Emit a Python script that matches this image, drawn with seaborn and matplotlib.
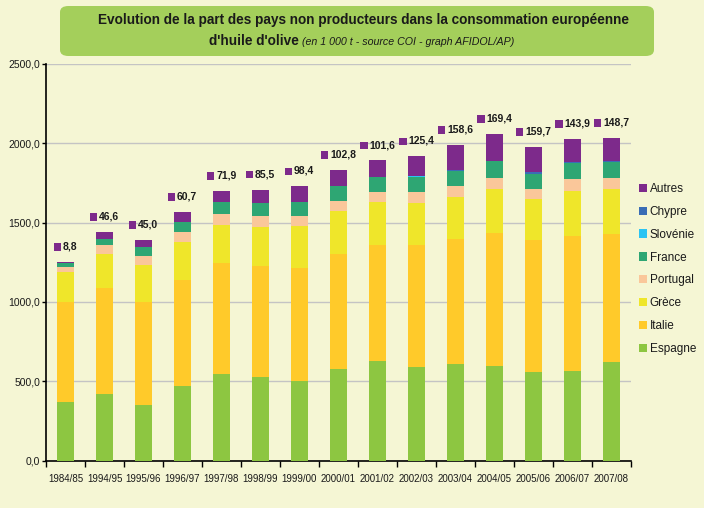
import matplotlib
matplotlib.use("Agg")
import matplotlib.pyplot as plt
import seaborn as sns
import pandas as pd
import numpy as np
from matplotlib.patches import Patch, FancyBboxPatch, Rectangle
from matplotlib.offsetbox import HPacker, TextArea, DrawingArea, AnnotationBbox
from matplotlib.ticker import FuncFormatter, FixedLocator

# ---- data (1 000 t) ----
campaigns = ["1984/85", "1994/95", "1995/96", "1996/97", "1997/98", "1998/99", "1999/00",
             "2000/01", "2001/02", "2002/03", "2003/04", "2004/05", "2005/06", "2006/07", "2007/08"]
espagne  = [371, 419, 350, 470, 545, 526, 501, 577, 627, 590, 608, 596, 558, 564, 621]
italie   = [629, 669, 649, 668, 700, 700, 713, 725, 731, 768, 789, 839, 832, 851, 807]
grece    = [189, 216, 234, 240, 240, 245, 265, 271, 272, 265, 264, 277, 259, 284, 284]
portugal = [31, 55, 57, 63, 69, 70, 62, 63, 63, 70, 70, 69, 63, 76, 69]
france   = [25, 38, 55, 65, 76, 82, 90, 95, 97, 97, 94, 105, 94, 101, 101]
slovenie = [0, 0, 0, 0, 0, 0, 0, 0, 0, 1, 1, 1, 1, 1, 1]
chypre   = [0, 0, 0, 0, 0, 0, 0, 0, 0, 2, 4, 3, 11, 7, 3]
autres   = [8.8, 46.6, 45.0, 60.7, 71.9, 85.5, 98.4, 102.8, 101.6, 125.4, 158.6, 169.4, 159.7, 143.9, 148.7]

series_names = ["Espagne", "Italie", "Grèce", "Portugal", "France", "Slovénie", "Chypre", "Autres"]
series_vals = [espagne, italie, grece, portugal, france, slovenie, chypre, autres]
colors = {"Espagne": "#8DC641", "Italie": "#FFCA2A", "Grèce": "#EFE62A", "Portugal": "#FAC79A",
          "France": "#2EA673", "Slovénie": "#2BC4F3", "Chypre": "#3A6DB5", "Autres": "#7D2A8B"}

BG = "#F5F6D4"
FONT = ["Liberation Sans", "DejaVu Sans"]
TXT = "#1a1a1a"

sns.set_theme(style="white")
plt.rcParams["font.family"] = FONT

df = pd.DataFrame({"campagne": campaigns})
cum = np.zeros(len(campaigns))
for name, vals in zip(series_names, series_vals):
    cum = cum + np.array(vals, dtype=float)
    df["cum_" + name] = cum.copy()

fig = plt.figure(figsize=(7.04, 5.08), dpi=100, facecolor=BG)
ax = fig.add_axes([46 / 704, 47.5 / 508, 585 / 704, 396.5 / 508])
ax.set_facecolor(BG)

# draw cumulative totals from top series down so that lower layers overlay
for name in reversed(series_names):
    sns.barplot(data=df, x="campagne", y="cum_" + name, color=colors[name], width=0.44,
                saturation=1, ax=ax, linewidth=0, zorder=3)

ax.set_xlim(-0.5, len(campaigns) - 0.5)
ax.set_ylim(0, 2500)
ax.set_xlabel("")
ax.set_ylabel("")

# y axis
ax.yaxis.set_major_locator(FixedLocator([0, 500, 1000, 1500, 2000, 2500]))
ax.yaxis.set_major_formatter(FuncFormatter(lambda v, p: f"{v:.1f}".replace(".", ",")))
ax.grid(axis="y", color="#C4C4C4", linewidth=1.0, zorder=0)
ax.grid(axis="x", visible=False)
ax.set_axisbelow(True)

# x axis: labels at centres, tick marks at boundaries
ax.set_xticks(range(len(campaigns)))
ax.set_xticklabels(campaigns)
ax.set_xticks(np.arange(-0.5, len(campaigns)), minor=True)
ax.tick_params(axis="x", which="major", length=0, pad=10, labelsize=7, labelcolor=TXT)
ax.tick_params(axis="x", which="minor", length=4, width=1, color="black", direction="out", bottom=True)
ax.tick_params(axis="y", which="major", length=3, width=1, color="black", direction="out",
               labelsize=7.5, labelcolor=TXT, pad=1, left=True)

for s in ["top", "right"]:
    ax.spines[s].set_visible(False)
for s in ["left", "bottom"]:
    ax.spines[s].set_color("black")
    ax.spines[s].set_linewidth(1.2)

# value labels for "Autres"
totals = df["cum_Autres"].values
for i, (tot, val) in enumerate(zip(totals, autres)):
    da = DrawingArea(5.5, 5.5, 0, 0)
    da.add_artist(Rectangle((0, -0.3), 5.5, 5.5, facecolor=colors["Autres"], edgecolor="none"))
    ta = TextArea(f"{val:.1f}".replace(".", ","),
                  textprops=dict(fontsize=7.5, fontweight="bold", color=TXT, family=FONT))
    pack = HPacker(children=[da, ta], align="center", pad=0, sep=1.2)
    ab = AnnotationBbox(pack, (i, tot), xybox=(0, 11), xycoords="data",
                        boxcoords="offset points", frameon=False, pad=0,
                        box_alignment=(0.5, 0.5), zorder=5)
    ax.add_artist(ab)

# legend
handles = [Patch(facecolor=colors[n], edgecolor="none", label=n) for n in reversed(series_names)]
leg = fig.legend(handles=handles, loc="upper left", bbox_to_anchor=(639 / 704, 1 - 183 / 508),
                 frameon=False, fontsize=8.5, handlelength=0.7, handleheight=0.7,
                 handletextpad=0.2, labelspacing=0.92, borderaxespad=0, borderpad=0)
for t in leg.get_texts():
    t.set_color(TXT)

# title box
box = FancyBboxPatch((60 / 704, 1 - 56 / 508), 594 / 704, 50 / 508,
                     boxstyle="round,pad=0,rounding_size=0.012", transform=fig.transFigure,
                     facecolor="#A4CF5B", edgecolor="none", zorder=1)
fig.patches.append(box)
fig.text(363 / 704, 1 - 20 / 508,
         "Evolution de la part des pays non producteurs dans la consommation européenne",
         ha="center", va="center", fontsize=9.8, fontweight="bold", color=TXT, family=FONT)
t1 = TextArea("d'huile d'olive", textprops=dict(fontsize=9.8, fontweight="bold", color=TXT, family=FONT))
t2 = TextArea(" (en 1 000 t - source COI - graph AFIDOL/AP)",
              textprops=dict(fontsize=7.7, fontstyle="italic", color=TXT, family=FONT))
line2 = HPacker(children=[t1, t2], align="baseline", pad=0, sep=0)
ab2 = AnnotationBbox(line2, (362 / 704, 1 - 41 / 508), xycoords="figure fraction",
                     frameon=False, pad=0, box_alignment=(0.5, 0.5))
fig.add_artist(ab2)

fig.savefig("out.png", dpi=100, facecolor=BG)
